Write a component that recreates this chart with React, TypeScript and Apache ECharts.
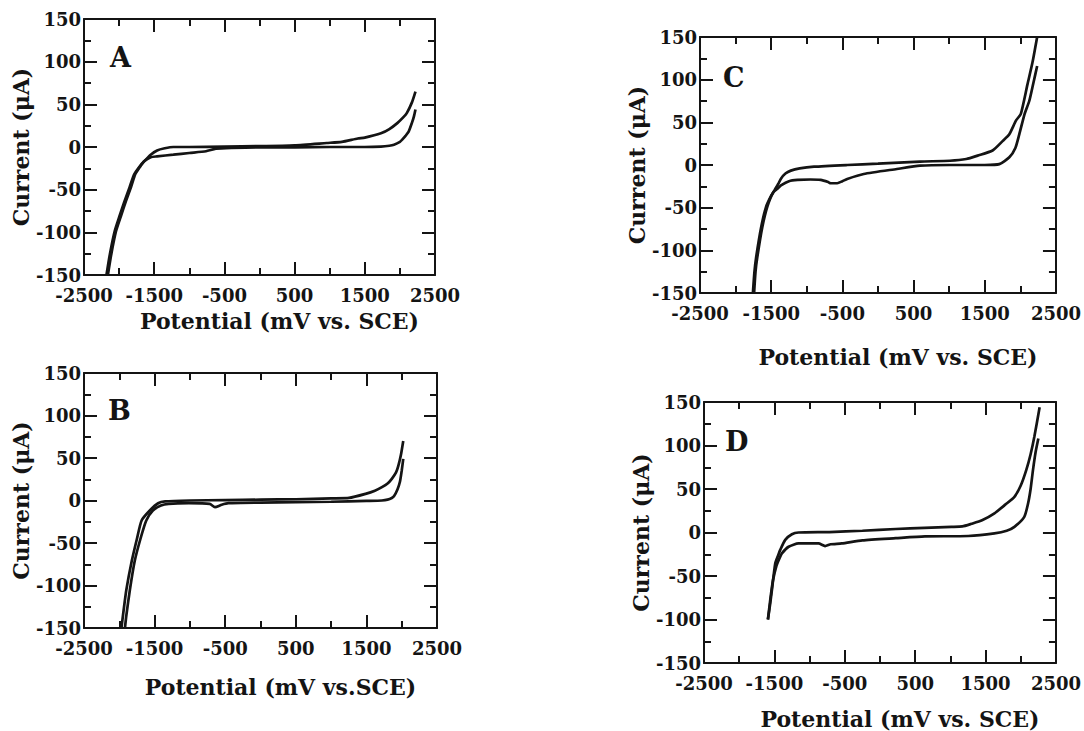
import React, { useEffect, useRef } from "react";
import * as echarts from "echarts";

// ---- axis definitions ----
const X_MIN = -2500;
const X_MAX = 2500;
const X_STEP = 1000;
const Y_MIN = -150;
const Y_MAX = 150;
const Y_STEP = 50;

const panelLetters = ["A", "B", "C", "D"];
const xTitles = [
  "Potential (mV vs. SCE)",
  "Potential (mV vs.SCE)",
  "Potential (mV vs. SCE)",
  "Potential (mV vs. SCE)",
];
const yTitle = "Current (\u03bcA)";

// ---- data: [potential mV, current uA] ----
const aUpper = [
  [-2180, -150], [-2130, -125], [-2064, -99], [-1990, -80], [-1925, -64], [-1850, -47],
  [-1785, -32], [-1700, -22], [-1646, -17], [-1550, -9], [-1459, -4], [-1350, -1.5],
  [-1227, 0], [-1000, 0], [-500, 0.5], [0, 1], [500, 2], [958, 4.7], [1172, 6],
  [1400, 10], [1500, 11], [1730, 16], [1850, 21], [1963, 28], [2050, 35], [2100, 40],
  [2170, 52], [2222, 65],
];
const aLower = [
  [-2160, -150], [-2110, -125], [-2045, -99], [-1970, -80], [-1905, -64], [-1830, -47],
  [-1770, -32], [-1700, -23], [-1646, -17], [-1550, -12], [-1459, -11], [-1227, -9],
  [-1000, -7], [-762, -5], [-622, -2], [-400, -1], [0, -0.5], [500, -0.5], [1000, 0],
  [1500, 0], [1730, 0.5], [1850, 1.5], [1916, 2.7], [2000, 6], [2033, 8.6], [2080, 13],
  [2125, 18], [2170, 28], [2200, 36], [2222, 44],
];
const bUpper = [
  [-1970, -150], [-1940, -130], [-1900, -105], [-1823, -71], [-1750, -45], [-1684, -23.5],
  [-1568, -11.8], [-1450, -3.2], [-1350, -1], [-1000, 0], [-500, 0.5], [0, 1], [500, 1.5],
  [1000, 2.5], [1255, 3], [1488, 7.8], [1620, 11.5], [1720, 15.7], [1800, 20], [1860, 25.5],
  [1920, 33], [1953, 41], [1990, 54], [2022, 70],
];
const bLower = [
  [-1920, -150], [-1900, -135], [-1850, -105], [-1781, -71], [-1700, -45], [-1618, -23.5],
  [-1525, -11.8], [-1410, -5.9], [-1300, -4], [-1013, -3.2], [-720, -4], [-645, -7.8],
  [-550, -5], [-455, -3.2], [0, -2.5], [500, -2], [1000, -1.5], [1500, -0.5], [1720, 0],
  [1800, 1], [1860, 3], [1890, 5], [1940, 13], [1975, 22], [2000, 35], [2022, 49],
];
const cUpper = [
  [-1757, -150], [-1735, -125], [-1711, -108], [-1641, -73], [-1572, -49], [-1500, -36],
  [-1456, -30], [-1400, -22], [-1363, -16], [-1300, -10], [-1224, -6.6], [-1100, -4],
  [-898, -2], [-432, 0], [0, 1.5], [590, 4], [1010, 5], [1240, 7], [1400, 11], [1610, 17],
  [1750, 28], [1845, 36], [1938, 52], [2007, 60], [2100, 94.5], [2170, 120], [2236, 150],
];
const cLower = [
  [-1740, -150], [-1720, -125], [-1695, -108], [-1625, -73], [-1555, -49], [-1470, -32],
  [-1400, -27], [-1363, -24], [-1250, -19], [-1130, -17.5], [-950, -17], [-805, -17.5],
  [-700, -20], [-665, -21.4], [-572, -21.4], [-500, -19], [-432, -16.3], [-200, -10.5],
  [265, -4.7], [590, -0.8], [1000, 0], [1500, 0], [1705, 1], [1845, 9], [1930, 20],
  [1985, 36], [2060, 60], [2125, 75], [2180, 95], [2236, 116],
];
const dUpper = [
  [-1592, -100], [-1560, -82], [-1535, -66], [-1488, -35.5], [-1450, -27], [-1417, -20],
  [-1346, -8.5], [-1251, -2], [-1157, 0], [-720, 0.5], [-250, 2], [225, 4], [633, 5.4],
  [1015, 6.5], [1170, 7], [1300, 10], [1450, 14], [1626, 22], [1780, 32], [1910, 41],
  [2000, 54], [2079, 72], [2140, 90], [2193, 110], [2268, 144],
];
const dLower = [
  [-1592, -100], [-1555, -75], [-1520, -55], [-1470, -38], [-1430, -30], [-1393, -24],
  [-1298, -16.4], [-1157, -12.6], [-950, -12.6], [-873, -12.6], [-780, -15.6], [-700, -13.5],
  [-543, -12.6], [-250, -9], [225, -6.5], [638, -4.5], [1253, -4], [1626, -1], [1800, 2],
  [1910, 6.5], [2050, 18], [2103, 33], [2140, 50], [2174, 72], [2210, 92], [2250, 108],
];

const panelData = [
  [aUpper, aLower],
  [bUpper, bLower],
  [cUpper, cLower],
  [dUpper, dLower],
];

// ---- layout (pixels) ----
const grids = [
  { left: 84, top: 19, width: 351, height: 256 },
  { left: 84, top: 373, width: 353, height: 255 },
  { left: 700, top: 37, width: 357, height: 256 },
  { left: 704, top: 402, width: 352, height: 261 },
];
const xNameGaps = [35, 48, 53, 45];
const yNameGaps = [47, 47, 47, 51];
const letterPos = [
  [110, 44],
  [108, 397],
  [723, 64],
  [725, 428],
];

const INK = "#141414";
const FONT = '"DejaVu Serif", serif';

function buildOption() {
  const xAxis: any[] = [];
  const yAxis: any[] = [];
  const series: any[] = [];
  const graphic: any[] = [];
  const common = (show: boolean) => ({
    axisLine: { show: true, onZero: false, lineStyle: { color: INK, width: 2 } },
    axisTick: { show: true, inside: true, length: 13, lineStyle: { color: INK, width: 2 } },
    minorTick: { show: true, splitNumber: 2, length: 7, lineStyle: { color: INK, width: 2 } },
    splitLine: { show: false },
    minorSplitLine: { show: false },
    axisLabel: {
      show,
      color: INK,
      fontFamily: FONT,
      fontWeight: "bold",
      fontSize: 18,
      lineHeight: 18,
      formatter: (v: number) => String(v),
    },
  });
  grids.forEach((g, i) => {
    const cx = common(true);
    xAxis.push({
      type: "value",
      gridIndex: i,
      position: "bottom",
      min: X_MIN,
      max: X_MAX,
      interval: X_STEP,
      ...cx,
      axisLabel: { ...cx.axisLabel, margin: 11 },
      name: xTitles[i],
      nameLocation: "middle",
      nameGap: xNameGaps[i],
      nameTextStyle: {
        color: INK,
        fontFamily: FONT,
        fontWeight: "bold",
        fontSize: 22,
        padding: [0, 0, 0, 40],
      },
    });
    xAxis.push({
      type: "value",
      gridIndex: i,
      position: "top",
      min: X_MIN,
      max: X_MAX,
      interval: X_STEP,
      ...common(false),
    });
    const cy = common(true);
    yAxis.push({
      type: "value",
      gridIndex: i,
      position: "left",
      min: Y_MIN,
      max: Y_MAX,
      interval: Y_STEP,
      ...cy,
      axisLabel: { ...cy.axisLabel, margin: 3 },
      name: yTitle,
      nameLocation: "middle",
      nameGap: yNameGaps[i],
      nameTextStyle: {
        color: INK,
        fontFamily: FONT,
        fontWeight: "bold",
        fontSize: 22,
      },
    });
    yAxis.push({
      type: "value",
      gridIndex: i,
      position: "right",
      min: Y_MIN,
      max: Y_MAX,
      interval: Y_STEP,
      ...common(false),
    });
    panelData[i].forEach((d) => {
      series.push({
        type: "line",
        xAxisIndex: 2 * i,
        yAxisIndex: 2 * i,
        data: d,
        showSymbol: false,
        smooth: 0.2,
        lineStyle: { color: INK, width: 2.7 },
        clip: true,
      });
    });
    graphic.push({
      type: "text",
      left: letterPos[i][0],
      top: letterPos[i][1],
      style: {
        text: panelLetters[i],
        fill: INK,
        font: `bold 27px ${FONT}`,
      },
    });
  });
  return {
    animation: false,
    backgroundColor: "#ffffff",
    grid: grids.map((g) => ({ ...g, containLabel: false })),
    xAxis,
    yAxis,
    series,
    graphic,
  };
}

export default function App() {
  const ref = useRef<HTMLDivElement>(null);
  useEffect(() => {
    if (!ref.current) return;
    const chart = echarts.init(ref.current, undefined, { renderer: "svg" });
    chart.setOption(buildOption() as any);
    return () => chart.dispose();
  }, []);
  return (
    <div
      ref={ref}
      style={{ position: "fixed", left: 0, top: 0, width: 1084, height: 731, background: "#fff" }}
    />
  );
}
